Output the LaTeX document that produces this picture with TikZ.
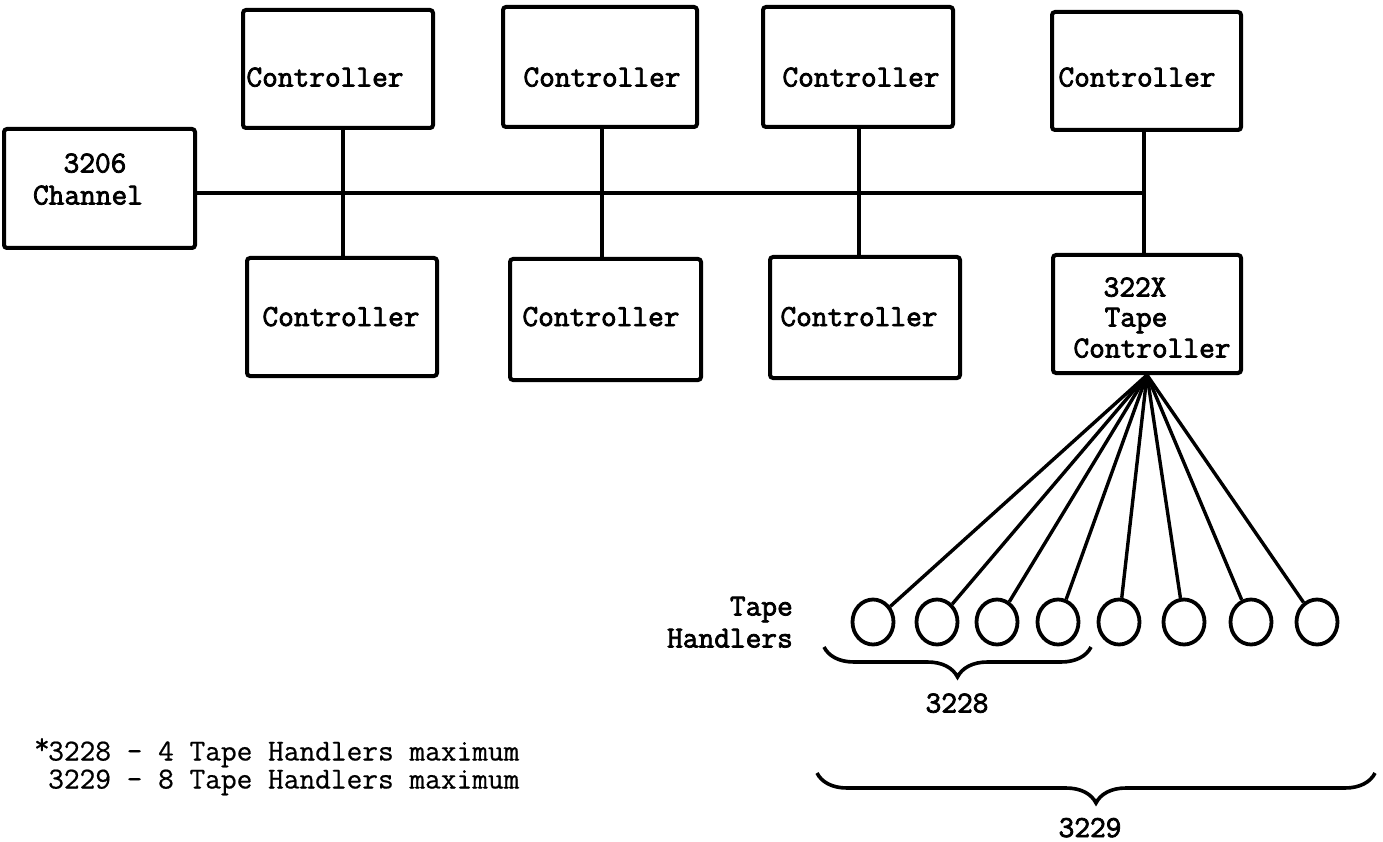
\documentclass[tikz,border=0pt]{standalone}
\usepackage{fontspec}
\usetikzlibrary{shapes.geometric,decorations.pathreplacing}
\newfontfamily\dfont[FakeBold=2.5]{Latin Modern Mono}
\newfontfamily\lfont[FakeBold=0.6]{Latin Modern Mono}
\begin{document}
\begin{tikzpicture}[x=1pt,y=-1pt,
  box/.style={draw, line width=4pt, rounded corners=3pt, inner sep=0pt},
  conn/.style={line width=3.4pt},
  txt/.style={inner sep=0pt, font=\dfont\fontsize{30.5}{32}\selectfont},
  leg/.style={inner sep=0pt, font=\lfont\fontsize{30.5}{32}\selectfont},
  handler/.style={draw, ellipse, line width=3.8pt, minimum width=41pt, minimum height=45pt, inner sep=0pt},
  brc/.style={line width=3.6pt, decorate, decoration={brace, mirror, amplitude=30pt}}]
\fill[white] (0,0) rectangle (1383,842);
\useasboundingbox (0,0) rectangle (1383,842);

% boxes
\node[box, minimum width=191pt, minimum height=119pt] (Ch) at (99.5,188.5) {};
\node[box, minimum width=190pt, minimum height=118pt] (T1) at (338,69) {};
\node[box, minimum width=194pt, minimum height=120pt] (T2) at (600,67) {};
\node[box, minimum width=190pt, minimum height=120pt] (T3) at (858,67) {};
\node[box, minimum width=189pt, minimum height=118pt] (T4) at (1146.5,71) {};
\node[box, minimum width=190pt, minimum height=118pt] (B1) at (342,317) {};
\node[box, minimum width=191pt, minimum height=121pt] (B2) at (605.5,319.5) {};
\node[box, minimum width=190pt, minimum height=121pt] (B3) at (865,317.5) {};
\node[box, minimum width=188pt, minimum height=118pt] (B4) at (1147,314) {};

% texts
\node[txt, anchor=base] (Cha) at (95,172.5) {3206};
\node[txt, anchor=base] (Chb) at (88,204.5) {Channel};
\node[txt, anchor=base] (T1t) at (325,86.5) {Controller};
\node[txt, anchor=base] (T2t) at (602,86.5) {Controller};
\node[txt, anchor=base] (T3t) at (861,86.5) {Controller};
\node[txt, anchor=base] (T4t) at (1137,86.5) {Controller};
\node[txt, anchor=base] (B1t) at (341,326) {Controller};
\node[txt, anchor=base] (B2t) at (601,326) {Controller};
\node[txt, anchor=base] (B3t) at (859,326) {Controller};
\node[txt, anchor=base] (B4a) at (1135,296.5) {322X};
\node[txt, anchor=base] (B4b) at (1136,326.5) {Tape};
\node[txt, anchor=base] (B4c) at (1152,357.5) {Controller};

% bus
\coordinate (j1) at (343,193);
\coordinate (j2) at (602,193);
\coordinate (j3) at (859,193);
\coordinate (j4) at (1144,193);
\draw[conn] (Ch.east |- j4) -- (j4);
\draw[conn] (T1.south -| j1) -- (B1.north -| j1);
\draw[conn] (T2.south -| j2) -- (B2.north -| j2);
\draw[conn] (T3.south -| j3) -- (B3.north -| j3);
\draw[conn] (T4.south -| j4) -- (B4.north -| j4);

% tape handlers
\foreach \i/\x in {1/873,2/937,3/997,4/1058,5/1119,6/1184,7/1251,8/1317}{
  \node[handler] (h\i) at (\x,622) {};
  \draw[conn] (B4.south) -- (h\i);
}
\node[txt, anchor=base east] (th1) at (793,615.5) {Tape};
\node[txt, anchor=base east] (th2) at (793,647.5) {Handlers};

% braces
\coordinate (b1s) at (824,647);
\coordinate (b1e) at (1091,647);
\draw[brc] (b1s) -- (b1e);
\node[txt, anchor=base] (l3228) at (957,712.5) {3228};
\coordinate (b2s) at (817,773);
\coordinate (b2e) at (1375,773);
\draw[brc] (b2s) -- (b2e);
\node[txt, anchor=base] (l3229) at (1090,837) {3229};

% legend
\node[leg, anchor=base east] (ast) at (50,754) {*};
\node[leg, anchor=base west] (lg1) at (48,760.5) {3228 - 4 Tape Handlers maximum};
\node[leg, anchor=base west] (lg2) at (48,788.5) {3229 - 8 Tape Handlers maximum};
\end{tikzpicture}
\end{document}
